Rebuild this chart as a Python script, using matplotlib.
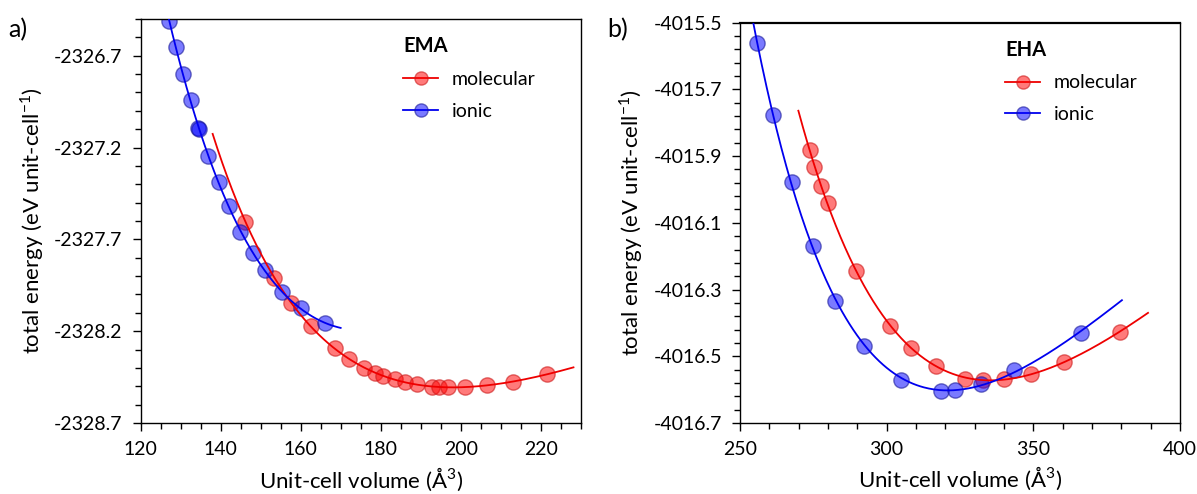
import numpy as np
import matplotlib
matplotlib.use("Agg")
import matplotlib.pyplot as plt
from matplotlib.ticker import AutoMinorLocator, FormatStrFormatter

plt.rcParams["font.family"] = ["Lato", "DejaVu Sans"]
plt.rcParams["mathtext.fontset"] = "custom"
plt.rcParams["mathtext.rm"] = "Lato"
plt.rcParams["axes.unicode_minus"] = False

# ─── DATA ──────────────────────────────────────────────────────────────────────
# a) EMA
ema_mol_v = [146.2, 153.4, 157.6, 162.5, 168.6, 172.0, 175.9, 178.5, 180.7, 183.5,
             186.2, 189.0, 192.8, 194.5, 196.8, 201.0, 206.5, 213.2, 221.5]
ema_mol_e = [-2327.603, -2327.910, -2328.044, -2328.173, -2328.294, -2328.350,
             -2328.399, -2328.425, -2328.445, -2328.463, -2328.477, -2328.490,
             -2328.503, -2328.503, -2328.506, -2328.506, -2328.493, -2328.476,
             -2328.434]
ema_ion_v = [127.1, 128.8, 130.7, 132.5, 134.4, 134.6, 136.9, 139.5, 142.0, 144.9,
             148.05, 151.1, 155.3, 160.05, 166.1]
ema_ion_e = [-2326.512, -2326.655, -2326.800, -2326.941, -2327.092, -2327.098,
             -2327.244, -2327.389, -2327.520, -2327.660, -2327.774, -2327.865,
             -2327.986, -2328.073, -2328.158]
ema_mol_fit = (138.0, 228.2)
ema_ion_fit = (126.8, 170.0)

# b) EHA
eha_mol_v = [273.7, 275.4, 277.6, 280.1, 289.6, 301.3, 308.4, 316.9, 326.8, 333.0,
             340.0, 349.1, 360.4, 379.5]
eha_mol_e = [-4015.882, -4015.932, -4015.989, -4016.042, -4016.244, -4016.410,
             -4016.475, -4016.530, -4016.567, -4016.572, -4016.569, -4016.552,
             -4016.517, -4016.427]
eha_ion_v = [255.7, 261.4, 267.6, 274.8, 282.5, 292.4, 304.9, 318.6, 323.4, 332.3,
             343.4, 366.1]
eha_ion_e = [-4015.560, -4015.777, -4015.979, -4016.169, -4016.334, -4016.469,
             -4016.570, -4016.604, -4016.600, -4016.584, -4016.542, -4016.429]
eha_mol_fit = (269.9, 389.1)
eha_ion_fit = (254.0, 380.2)

RED, BLUE = "#ee0000", "#0000ee"


def eos_curve(v, e, vrange):
    # 3rd-order Birch-Murnaghan style fit: cubic in V^(-2/3)
    x = np.asarray(v) ** (-2.0 / 3.0)
    p = np.polyfit(x, np.asarray(e) - np.mean(e), 3)
    vv = np.linspace(vrange[0], vrange[1], 300)
    return vv, np.polyval(p, vv ** (-2.0 / 3.0)) + np.mean(e)


def draw(ax, mol_v, mol_e, ion_v, ion_e, mol_rng, ion_rng, title, leg_x):
    for v, e, rng, col, face, edge, lab in [
        (mol_v, mol_e, mol_rng, RED, (1, 0, 0, 0.52), (0.8, 0.1, 0.1, 0.6), "molecular"),
        (ion_v, ion_e, ion_rng, BLUE, (0, 0, 1, 0.52), (0.1, 0.1, 0.6, 0.6), "ionic"),
    ]:
        ax.plot(v, e, "o", ms=11, mfc=face, mec=edge, mew=1.0, zorder=2)
        vv, ee = eos_curve(v, e, rng)
        ax.plot(vv, ee, "-", color=col, lw=1.3, zorder=3)
        ax.plot([], [], "-o", color=col, lw=1.3, ms=9.5, mfc=face, mec=edge, label=lab)
    ax.legend(title=title, loc="upper left", bbox_to_anchor=(leg_x, 0.957),
              frameon=False, fontsize=14, title_fontproperties={"weight": "bold", "size": 14.5},
              alignment="left", handlelength=1.8, handletextpad=0.7,
              labelspacing=0.75, borderpad=0, borderaxespad=0)
    ax.tick_params(which="major", direction="out", length=6, width=1.0, labelsize=14,
                   pad=7, right=False, top=False)
    ax.tick_params(which="minor", direction="out", length=4, width=1.0,
                   right=False, top=False)
    for s in ax.spines.values():
        s.set_linewidth(1.0)
    ax.yaxis.set_major_formatter(FormatStrFormatter("%.1f"))
    ax.set_xlabel("Unit-cell volume (Å$^{\\mathregular{3}}$)", fontsize=16)
    ax.set_ylabel("total energy (eV unit-cell$^{\\mathregular{-1}}$)", fontsize=16)


fig = plt.figure(figsize=(11.97, 4.94), dpi=100)
ax1 = fig.add_axes([0.1175, 0.1437, 0.3676, 0.8178])
ax2 = fig.add_axes([0.6182, 0.1437, 0.3676, 0.8104])

draw(ax1, ema_mol_v, ema_mol_e, ema_ion_v, ema_ion_e, ema_mol_fit, ema_ion_fit, "EMA", 0.597)
ax1.set_xlim(120, 230)
ax1.set_ylim(-2328.7, -2326.5)
ax1.set_xticks([120, 140, 160, 180, 200, 220])
ax1.set_yticks([-2328.7, -2328.2, -2327.7, -2327.2, -2326.7])
ax1.xaxis.set_minor_locator(AutoMinorLocator(4))
ax1.yaxis.set_minor_locator(AutoMinorLocator(5))

draw(ax2, eha_mol_v, eha_mol_e, eha_ion_v, eha_ion_e, eha_mol_fit, eha_ion_fit, "EHA", 0.603)
ax2.set_xlim(250, 400)
ax2.set_ylim(-4016.7, -4015.5)
ax2.set_xticks([250, 300, 350, 400])
ax2.set_yticks([-4016.7, -4016.5, -4016.3, -4016.1, -4015.9, -4015.7, -4015.5])
ax2.xaxis.set_minor_locator(AutoMinorLocator(5))
ax2.yaxis.set_minor_locator(AutoMinorLocator(5))
ax2.spines["top"].set_linewidth(1.6)

for ax in (ax1, ax2):
    ax.yaxis.set_label_coords(-0.215, 0.5)
    ax.xaxis.set_label_coords(0.5, -0.105)

fig.text(0.007, 0.925, "a)", fontsize=18)
fig.text(0.507, 0.925, "b)", fontsize=18)

fig.savefig("out.png", dpi=100)
